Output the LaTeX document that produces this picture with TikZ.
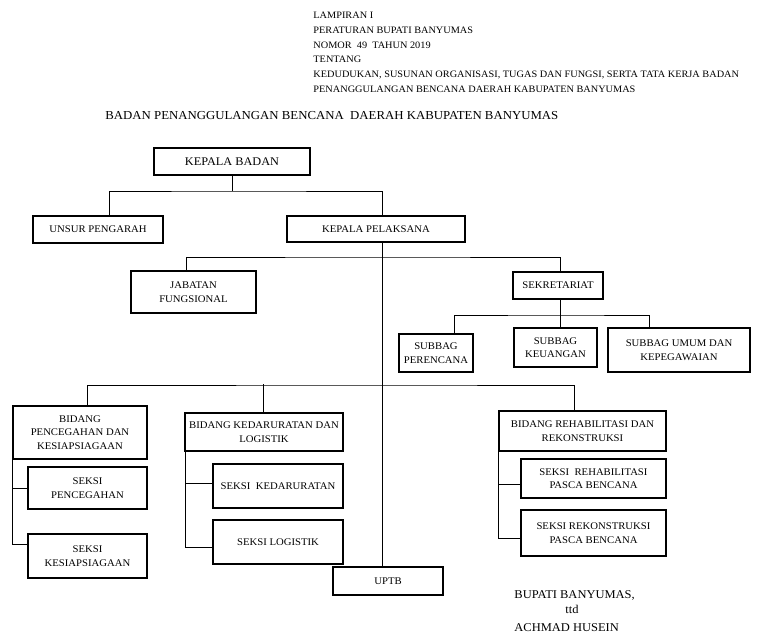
\documentclass[tikz,border=0pt]{standalone}
\usepackage{fontspec}
\setmainfont[FakeStretch=1.05]{Liberation Serif}
\begin{document}
\begin{tikzpicture}[x=1pt, y=-1pt, line width=0.9pt,
    box/.style={draw, line width=1.2pt, align=center, inner sep=1pt,
      font=\fontsize{10.2}{13.5}\selectfont},
    bigbox/.style={box, font=\fontsize{11.7}{13}\selectfont}]
    \useasboundingbox (0,0) rectangle (765,635);
    % Header
    \node[anchor=north west, inner sep=0, align=left,
      font=\fontsize{9.8}{14.8}\selectfont] (head) at (313,11.5)
      {LAMPIRAN I\\PERATURAN BUPATI BANYUMAS\\NOMOR\ \ 49\ \ TAHUN 2019\\TENTANG\\
       KEDUDUKAN, SUSUNAN ORGANISASI, TUGAS DAN FUNGSI, SERTA TATA KERJA BADAN\\
       PENANGGULANGAN BENCANA DAERAH KABUPATEN BANYUMAS};
    \node[anchor=base west, inner sep=0, font=\fontsize{12.2}{13}\selectfont] (title) at (105,119.5)
      {BADAN PENANGGULANGAN BENCANA\ \ DAERAH KABUPATEN BANYUMAS};
    % Top level
    \node[bigbox, minimum width=156pt, minimum height=27pt] (kb) at (232,161.5) {KEPALA BADAN};
    \node[box, minimum width=130pt, minimum height=27pt] (up) at (98,229.5) {UNSUR PENGARAH};
    \node[box, minimum width=178pt, minimum height=26pt] (kp) at (376,229) {KEPALA PELAKSANA};
    \coordinate (j1) at (232,191);
    \draw ([xshift=11pt]up.north) |- (j1) -| ([xshift=6pt]kp.north);
    \draw (kb.south) -- (j1);
    % Jabatan fungsional and sekretariat
    \node[box, minimum width=125pt, minimum height=42pt] (jf) at (193.5,292) {JABATAN\\FUNGSIONAL};
    \node[box, minimum width=90pt, minimum height=27pt] (sek) at (558,285.5) {SEKRETARIAT};
    \coordinate (j2) at (382,257);
    \draw ([xshift=-7.5pt]jf.north) |- (j2) -| ([xshift=2pt]sek.north);
    % Subbag
    \node[box, minimum width=74pt, minimum height=38pt] (sp) at (436,353) {SUBBAG\\PERENCANA};
    \node[box, minimum width=83pt, minimum height=39pt] (sku) at (555.5,347.5) {SUBBAG\\KEUANGAN};
    \node[box, minimum width=142pt, minimum height=44pt] (sum) at (679,350) {SUBBAG UMUM DAN\\KEPEGAWAIAN};
    \coordinate (j3) at (560,315);
    \draw ([xshift=18pt]sp.north) |- (j3) -| ([xshift=-30pt]sum.north);
    \draw ([xshift=2pt]sek.south) -- ([xshift=4.5pt]sku.north);
    % UPTB
    \node[box, minimum width=110pt, minimum height=28pt] (uptb) at (388,581) {UPTB};
    \draw ([xshift=6pt]kp.south) -- ([xshift=-6pt]uptb.north);
    % Bidang
    \node[box, minimum width=134pt, minimum height=53pt] (bpk) at (80,432.5) {BIDANG\\PENCEGAHAN DAN\\KESIAPSIAGAAN};
    \node[box, minimum width=158pt, minimum height=38pt] (bkl) at (264,432) {BIDANG KEDARURATAN DAN\\LOGISTIK};
    \node[box, minimum width=167pt, minimum height=40pt] (brr) at (582.5,431) {BIDANG REHABILITASI DAN\\REKONSTRUKSI};
    \coordinate (j4) at (382,385);
    \draw ([xshift=7pt]bpk.north) |- (j4) -| ([xshift=-8.5pt]brr.north);
    \draw ([xshift=-1pt]bkl.north) -- ++(0,-28);
    % Seksi
    \node[box, minimum width=119pt, minimum height=42pt] (spc) at (87.5,488) {SEKSI\\PENCEGAHAN};
    \node[box, minimum width=119pt, minimum height=44pt] (sks) at (87.5,556) {SEKSI\\KESIAPSIAGAAN};
    \node[box, minimum width=130pt, minimum height=44pt] (skd) at (278,486) {SEKSI\ \ KEDARURATAN};
    \node[box, minimum width=130pt, minimum height=44pt] (slg) at (278,542) {SEKSI LOGISTIK};
    \node[box, minimum width=145pt, minimum height=39pt] (srh) at (593.5,478.5) {SEKSI\ \ REHABILITASI\\PASCA BENCANA};
    \node[box, minimum width=145pt, minimum height=46pt] (srk) at (593.5,533) {SEKSI REKONSTRUKSI\\PASCA BENCANA};
    \draw (bpk.south west) |- ([yshift=12pt]sks.west);
    \draw (bpk.south west |- spc.west) -- (spc.west);
    \draw ([xshift=1pt]bkl.south west) |- ([yshift=-5pt]slg.west);
    \draw ([yshift=3pt]skd.west) -- ([yshift=3pt,xshift=1pt]skd.west -| bkl.south west);
    \draw (brr.south west) |- ([yshift=-5pt]srk.west);
    \draw ([yshift=-5.5pt]srh.west) -- ([yshift=-5.5pt]srh.west -| brr.south west);
    % Signature
    \node[anchor=base west, inner sep=0, font=\fontsize{11.9}{13}\selectfont] (bupati) at (514,598) {BUPATI BANYUMAS,};
    \node[anchor=base west, inner sep=0, font=\fontsize{11.9}{13}\selectfont] (ttd) at (565,613) {ttd};
    \node[anchor=base west, inner sep=0, font=\fontsize{11.9}{13}\selectfont] (nama) at (514,631) {ACHMAD HUSEIN};
\end{tikzpicture}
\end{document}
